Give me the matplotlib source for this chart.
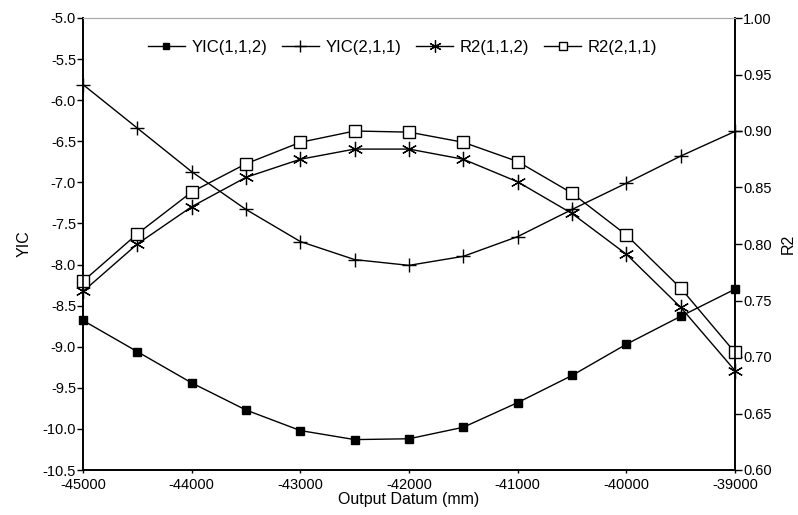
import matplotlib
matplotlib.use("Agg")
import matplotlib.pyplot as plt
from matplotlib.ticker import MultipleLocator, FormatStrFormatter

plt.rcParams['font.family'] = ['Liberation Sans', 'DejaVu Sans']
plt.rcParams['axes.unicode_minus'] = False

x = [-45000, -44500, -44000, -43500, -43000, -42500, -42000,
     -41500, -41000, -40500, -40000, -39500, -39000]
yic_112 = [-8.68, -9.06, -9.44, -9.77, -10.02, -10.13, -10.12,
           -9.98, -9.68, -9.35, -8.97, -8.63, -8.30]
yic_211 = [-5.81, -6.34, -6.87, -7.33, -7.72, -7.94, -8.01,
           -7.90, -7.66, -7.33, -7.01, -6.68, -6.38]
r2_112 = [0.758, 0.800, 0.833, 0.859, 0.875, 0.884, 0.884,
          0.875, 0.855, 0.827, 0.791, 0.744, 0.688]
r2_211 = [0.767, 0.809, 0.846, 0.871, 0.890, 0.900, 0.899,
          0.890, 0.873, 0.845, 0.808, 0.761, 0.704]
labels = ["YIC(1,1,2)", "YIC(2,1,1)", "R2(1,1,2)", "R2(2,1,1)"]

fig = plt.figure(figsize=(7.98, 5.15), dpi=100)
ax = fig.add_axes([83 / 798, (515 - 470) / 515, (735 - 83) / 798, (470 - 18) / 515])
ax2 = ax.twinx()

lw = 1.0
l1, = ax.plot(x, yic_112, color='black', lw=lw, marker='s', markersize=6,
              markerfacecolor='black', markeredgecolor='black', clip_on=False)
l2, = ax.plot(x, yic_211, color='black', lw=lw, marker='+', markersize=10,
              markeredgewidth=1.0, clip_on=False)
l3, = ax2.plot(x, r2_112, color='black', lw=lw, marker=(6, 2, 0), markersize=11,
               markeredgewidth=0.9, clip_on=False)
l4, = ax2.plot(x, r2_211, color='black', lw=lw, marker='s', markersize=8,
               markerfacecolor='white', markeredgecolor='black', markeredgewidth=1.0,
               clip_on=False)

ax.set_xlim(-45000, -39000)
ax.set_ylim(-10.5, -5.0)
ax2.set_ylim(0.60, 1.00)
ax.xaxis.set_major_locator(MultipleLocator(1000))
ax.yaxis.set_major_locator(MultipleLocator(0.5))
ax.yaxis.set_major_formatter(FormatStrFormatter('%.1f'))
ax2.yaxis.set_major_locator(MultipleLocator(0.05))
ax2.yaxis.set_major_formatter(FormatStrFormatter('%.2f'))

fs = 10.5
ax.tick_params(axis='y', labelsize=fs, direction='out', length=4, width=1, pad=1)
ax.tick_params(axis='x', labelsize=fs, direction='out', length=2, width=1, pad=4)
ax2.tick_params(axis='y', labelsize=fs, direction='out', length=5, width=1, pad=1)

for a in (ax, ax2):
    a.spines['top'].set_color('#aaaaaa')
    a.spines['top'].set_linewidth(0.8)
    a.spines['left'].set_linewidth(1.2)
    a.spines['right'].set_linewidth(1.2)
    a.spines['bottom'].set_linewidth(1.2)

ax.set_xlabel("Output Datum (mm)", fontsize=11.5, labelpad=0)
ax.set_ylabel("YIC", fontsize=11.5, labelpad=8)
ax2.set_ylabel("R2", fontsize=11.5, labelpad=6)

ax.legend([l1, l2, l3, l4], labels, loc='upper center', bbox_to_anchor=(0.49, 0.985),
          ncol=4, frameon=False, fontsize=12, handlelength=2.2,
          columnspacing=0.9, handletextpad=0.4, markerscale=0.8)

fig.savefig("out.png", dpi=100)
